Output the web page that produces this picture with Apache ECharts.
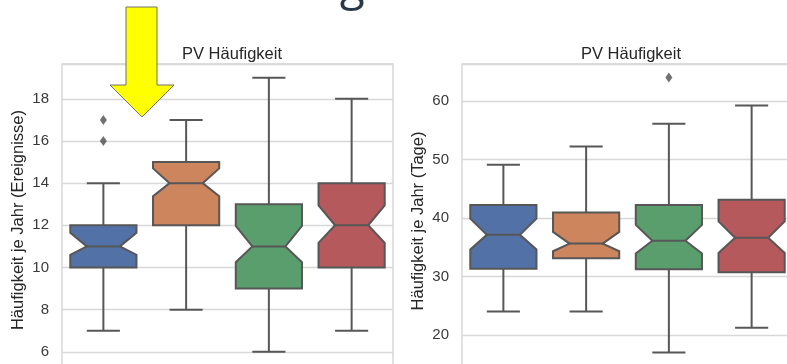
<!DOCTYPE html>
<html>
<head>
<meta charset="utf-8">
<script src="https://cdn.jsdelivr.net/npm/echarts@6/dist/echarts.min.js"></script>
<style>
  html, body { margin: 0; padding: 0; background: #ffffff; }
  #chart { width: 787px; height: 364px; }
</style>
</head>
<body>
<div id="chart"></div>
<script>
// Four groups per panel (box order left to right)
const categories = ['A', 'B', 'C', 'D'];

// Left panel: events per year
const eventsWhiskerLow  = [7, 8, 6, 7];
const eventsQ1          = [10, 12, 9, 10];
const eventsNotchLow    = [10.6, 13.38, 10.25, 11.17];
const eventsMedian      = [11, 14, 11, 12];
const eventsNotchHigh   = [11.65, 14.7, 11.97, 12.95];
const eventsQ3          = [12, 15, 13, 14];
const eventsWhiskerHigh = [14, 17, 19, 18];
const eventsOutliers    = [[0, 16], [0, 17]];

// Right panel: days per year
const daysWhiskerLow  = [24, 24, 17, 21.2];
const daysQ1          = [31.3, 33.1, 31.2, 30.7];
const daysNotchLow    = [34.6, 34.3, 33.9, 34.0];
const daysMedian      = [37.1, 35.6, 36.1, 36.6];
const daysNotchHigh   = [39.9, 37.6, 38.8, 39.4];
const daysQ3          = [42.2, 40.9, 42.2, 43.1];
const daysWhiskerHigh = [49.1, 52.2, 56.1, 59.2];
const daysOutliers    = [[2, 64]];

const boxColors = ['#5271a6', '#cd855d', '#5a9e6d', '#b5595c'];
const edgeColor = '#575757';
const font = '"Liberation Sans", Arial, sans-serif';

function boxRows(lo, q1, nlo, med, nhi, q3, hi) {
  return categories.map((c, i) => [i, lo[i], q1[i], nlo[i], med[i], nhi[i], q3[i], hi[i]]);
}

// Notched box: polygon narrowing to half width at the median
function renderNotchedBox(params, api) {
  const i = api.value(0);
  const band = api.size([1, 0])[0];
  const w = band * 0.8;
  const cx = api.coord([i, 0])[0];
  const L = cx - w / 2, R = cx + w / 2;
  const cL = cx - w / 4, cR = cx + w / 4;
  const y = k => api.coord([i, api.value(k)])[1];
  const yLo = y(1), yQ1 = y(2), yNLo = y(3), yMed = y(4), yNHi = y(5), yQ3 = y(6), yHi = y(7);
  const lineStyle = { stroke: edgeColor, lineWidth: 2 };
  return {
    type: 'group',
    children: [
      { type: 'line', shape: { x1: cx, y1: yQ3, x2: cx, y2: yHi }, style: lineStyle },
      { type: 'line', shape: { x1: cx, y1: yQ1, x2: cx, y2: yLo }, style: lineStyle },
      { type: 'line', shape: { x1: cL, y1: yHi, x2: cR, y2: yHi }, style: lineStyle },
      { type: 'line', shape: { x1: cL, y1: yLo, x2: cR, y2: yLo }, style: lineStyle },
      {
        type: 'polygon',
        shape: { points: [
          [L, yQ1], [R, yQ1], [R, yNLo], [cR, yMed], [R, yNHi], [R, yQ3],
          [L, yQ3], [L, yNHi], [cL, yMed], [L, yNLo]
        ] },
        style: { fill: boxColors[i], stroke: edgeColor, lineWidth: 2, lineJoin: 'miter' }
      },
      { type: 'line', shape: { x1: cL, y1: yMed, x2: cR, y2: yMed }, style: lineStyle }
    ]
  };
}

const grids = [
  { left: 62, top: 64, width: 331, height: 330 },
  { left: 462, top: 64, width: 331, height: 329.4 }
];

function yAxisFor(gridIndex, min, max, interval) {
  return {
    type: 'value', gridIndex, min, max, interval,
    axisLine: { show: false }, axisTick: { show: false },
    axisLabel: { color: '#3a3a3a', fontSize: 15, fontFamily: font, margin: 13, showMaxLabel: false,
      formatter: v => (Math.abs(v / interval - Math.round(v / interval)) < 1e-9 ? String(v) : '') },
    splitLine: { lineStyle: { color: '#d8d8d8', width: 1.3 } }
  };
}

const chart = echarts.init(document.getElementById('chart'), null, { renderer: 'canvas' });
chart.setOption({
  backgroundColor: '#ffffff',
  animation: false,
  title: [
    { text: 'PV Häufigkeit', left: 227, top: 41, textAlign: 'center',
      textStyle: { color: '#262626', fontSize: 16.5, fontWeight: 'normal', fontFamily: font } },
    { text: 'PV Häufigkeit', left: 626, top: 41, textAlign: 'center',
      textStyle: { color: '#262626', fontSize: 16.5, fontWeight: 'normal', fontFamily: font } }
  ],
  grid: grids.map(g => Object.assign({
    show: true, borderColor: '#d2d2d2', borderWidth: 1.3, backgroundColor: 'transparent',
    containLabel: false, outerBoundsMode: 'none'
  }, g)),
  xAxis: [0, 1].map(gi => ({
    type: 'category', gridIndex: gi, data: categories,
    axisLine: { show: false }, axisTick: { show: false }, axisLabel: { show: false }, splitLine: { show: false }
  })),
  yAxis: [yAxisFor(0, 4, 19.65, 2), yAxisFor(1, 10, 66.3, 10)],
  series: [
    { type: 'custom', xAxisIndex: 0, yAxisIndex: 0, renderItem: renderNotchedBox,
      encode: { x: 0, y: [1, 7] },
      data: boxRows(eventsWhiskerLow, eventsQ1, eventsNotchLow, eventsMedian, eventsNotchHigh, eventsQ3, eventsWhiskerHigh) },
    { type: 'scatter', xAxisIndex: 0, yAxisIndex: 0, symbol: 'diamond', symbolSize: [7, 10],
      itemStyle: { color: '#4d4d4d' }, data: eventsOutliers },
    { type: 'custom', xAxisIndex: 1, yAxisIndex: 1, renderItem: renderNotchedBox,
      encode: { x: 0, y: [1, 7] },
      data: boxRows(daysWhiskerLow, daysQ1, daysNotchLow, daysMedian, daysNotchHigh, daysQ3, daysWhiskerHigh) },
    { type: 'scatter', xAxisIndex: 1, yAxisIndex: 1, symbol: 'diamond', symbolSize: [7, 10],
      itemStyle: { color: '#4d4d4d' }, data: daysOutliers }
  ],
  graphic: [
    // Slide heading running off the top edge
    { type: 'text', left: 108, top: -36, z: 10,
      style: { text: 'Entwicklung auch in Ausschnitten', fill: '#27384a', fontSize: 46, fontFamily: '"Open Sans", sans-serif' } },
    // Axis titles
    { type: 'text', x: 18, y: 220, rotation: Math.PI / 2, z: 10,
      style: { text: 'Häufigkeit je Jahr (Ereignisse)', fill: '#262626', fontSize: 16.5, fontFamily: font, align: 'center', verticalAlign: 'middle' } },
    { type: 'text', x: 418, y: 221, rotation: Math.PI / 2, z: 10,
      style: { text: 'Häufigkeit je Jahr (Tage)', fill: '#262626', fontSize: 16.5, fontFamily: font, align: 'center', verticalAlign: 'middle' } },
    // Highlight arrow
    { type: 'polygon', z: 20,
      shape: { points: [[126, 7], [157, 7], [157, 85], [174, 85], [142, 117], [110, 85], [126, 85]] },
      style: { fill: '#ffff00', stroke: '#707070', lineWidth: 1 } }
  ]
});
</script>
</body>
</html>
